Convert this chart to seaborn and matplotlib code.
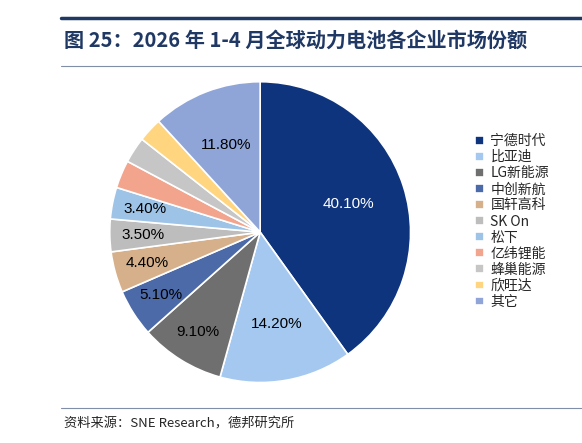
import matplotlib
matplotlib.use("Agg")
import matplotlib.pyplot as plt
import seaborn as sns
import numpy as np

companies = ["宁德时代", "比亚迪", "LG新能源", "中创新航", "国轩高科", "SK On",
             "松下", "亿纬锂能", "蜂巢能源", "欣旺达", "其它"]
shares = [40.1, 14.2, 9.1, 5.1, 4.4, 3.5, 3.4, 3.0, 2.8, 2.6, 11.8]
shown = [True, True, True, True, True, True, True, False, False, False, True]
colors = ["#0f347e", "#a5c8f0", "#6f6f6f", "#4c6aa8", "#d5b08a", "#bdbdbd",
          "#9dc3e6", "#f2a48c", "#c6c6c6", "#ffd580", "#8fa5d8"]

sns.set_theme(style="white")
plt.rcParams["font.family"] = ["Noto Sans CJK SC", "DejaVu Sans"]

fig = plt.figure(figsize=(5.82, 4.43), dpi=100)
ax = fig.add_axes([0.447 - 0.261, 0.476 - 0.343, 0.522, 0.686])

wedges, _ = ax.pie(shares, colors=sns.color_palette(colors), startangle=90,
                   counterclock=False, wedgeprops=dict(edgecolor="white", linewidth=1.2))
for w, v, s in zip(wedges, shares, shown):
    if not s:
        continue
    ang = np.deg2rad((w.theta1 + w.theta2) / 2)
    r = 0.62 if v > 10 else 0.78
    ax.text(r * np.cos(ang), r * np.sin(ang), f"{v:.2f}%", ha="center", va="center",
            fontsize=11, color="white" if v == 40.1 else "black",
            family=["Liberation Sans", "DejaVu Sans"])
ax.set_aspect("equal")
ax.set_xlim(-1.01, 1.01)
ax.set_ylim(-1.01, 1.01)

ax.legend(wedges, companies, loc="center left", bbox_to_anchor=(0.795, 0.5),
          bbox_transform=fig.transFigure, frameon=False, fontsize=10,
          handlelength=0.6, handleheight=0.6, handletextpad=0.5, labelspacing=0.15)

# title and rules
fig.add_artist(plt.Line2D([61 / 582, 1], [1 - 18 / 443] * 2, color="#1f3864", lw=2.5))
fig.add_artist(plt.Line2D([61 / 582, 1], [1 - 66 / 443] * 2, color="#7f8fa8", lw=0.8))
fig.text(64 / 582, 1 - 40 / 443, "图 25：2026 年 1-4 月全球动力电池各企业市场份额",
         fontsize=14.5, fontweight="bold", color="#1f3864", va="center")
fig.add_artist(plt.Line2D([61 / 582, 1], [1 - 408 / 443] * 2, color="#7f8fa8", lw=0.8))
fig.text(64 / 582, 1 - 424 / 443, "资料来源：SNE Research，德邦研究所", fontsize=9.5, va="center")

fig.savefig("out.png", dpi=100)
